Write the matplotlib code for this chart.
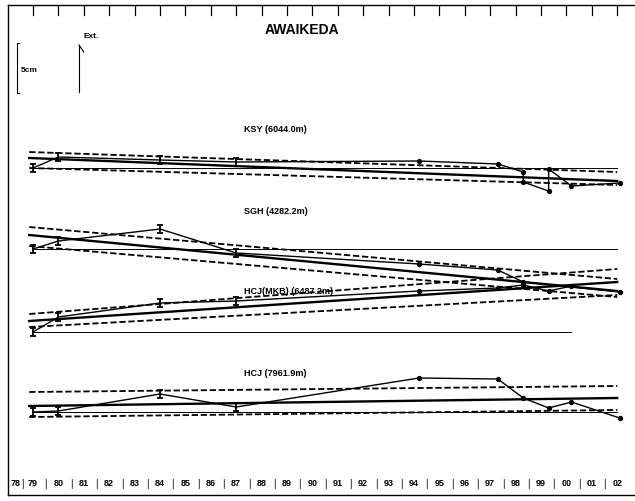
import numpy as np
import matplotlib.pyplot as plt

plt.rcParams['font.family'] = ['Liberation Sans', 'DejaVu Sans']

# anos das medições (ano decimal) e deslocamento em cm relativo à primeira medição
ksy_years = [1979.0, 1980.0, 1984.0, 1987.0, 1994.2, 1997.3, 1998.3, 1998.3, 1999.3, 1999.3, 2000.2, 2002.1]
ksy_disp = [0.0, 1.1, 0.8, 0.6, 0.7, 0.4, -0.4, -1.4, -2.3, -0.1, -1.8, -1.5]

sgh_years = [1979.0, 1980.0, 1984.0, 1987.0, 1994.2, 1997.3, 1998.3, 2002.1]
sgh_disp = [0.0, 0.8, 2.0, -0.4, -1.5, -2.1, -3.3, -4.3]

mkb_years = [1979.0, 1980.0, 1984.0, 1987.0, 1994.2, 1997.3, 1998.3, 1999.3, 2000.2]
mkb_disp = [0.0, 1.5, 2.9, 3.1, 4.1, 4.4, 4.7, 4.1, 4.6]

hcj_years = [1979.0, 1980.0, 1984.0, 1987.0, 1994.2, 1997.3, 1998.3, 1999.3, 2000.2, 2002.1]
hcj_disp = [0.0, 0.1, 1.8, 0.5, 3.4, 3.3, 1.4, 0.4, 1.0, -0.6]

# retas de tendência (início, fim) e limites tracejados
fit_years = [1978.85, 2002.0]
ksy_fit, ksy_up, ksy_lo = [1.0, -1.3], [1.6, -0.4], [0.0, -1.7]
sgh_fit, sgh_up, sgh_lo = [1.4, -4.2], [2.2, -3.0], [0.3, -4.8]
mkb_fit, mkb_up, mkb_lo = [1.1, 5.0], [1.8, 6.3], [0.5, 3.7]
hcj_fit, hcj_up, hcj_lo = [0.6, 1.4], [2.0, 2.6], [-0.5, 0.2]

year_labels = ['78', '79', '80', '81', '82', '83', '84', '85', '86', '87', '88', '89', '90',
               '91', '92', '93', '94', '95', '96', '97', '98', '99', '00', '01', '02']

series = [
    ('KSY (6044.0m)', ksy_years, ksy_disp, ksy_fit, ksy_up, ksy_lo, 32.7, 2002.0, 36.7),
    ('SGH (4282.2m)', sgh_years, sgh_disp, sgh_fit, sgh_up, sgh_lo, 24.6, 2002.0, 28.5),
    ('HCJ(MKB) (6487.2m)', mkb_years, mkb_disp, mkb_fit, mkb_up, mkb_lo, 16.3, 2000.2, 20.4),
    ('HCJ (7961.9m)', hcj_years, hcj_disp, hcj_fit, hcj_up, hcj_lo, 8.3, 2002.0, 12.3),
]

fig = plt.figure(figsize=(6.35, 5.02), dpi=100)
ax = fig.add_axes([8 / 635, 6 / 502, 637 / 635, 490 / 502])
ax.set_xlim(1978.016, 2003.094)
ax.set_ylim(0, 49)
for s in ['right', 'bottom', 'top', 'left']:
    ax.spines[s].set_linewidth(1.0)
ax.spines['right'].set_visible(False)
ax.set_xticks([])
ax.set_yticks([])

# marcas no topo
for yr in range(1979, 2003):
    ax.plot([yr, yr], [49, 48.0], color='black', lw=0.9)

dash = (0, (3.5, 1.5))
for name, yrs, disp, fit, up, lo, base, ref_end, ty in series:
    yrs = np.array(yrs)
    d = np.array(disp) + base
    ax.plot([yrs[0], ref_end], [base, base], color='black', lw=0.7)
    ax.plot(fit_years, np.array(fit) + base, color='black', lw=1.7)
    ax.plot(fit_years, np.array(up) + base, color='black', lw=1.3, linestyle=dash)
    ax.plot(fit_years, np.array(lo) + base, color='black', lw=1.3, linestyle=dash)
    ax.plot(yrs, d, color='black', lw=1.0)
    ax.errorbar(yrs[:4], d[:4], yerr=0.4, fmt='none', ecolor='black', elinewidth=1.3, capsize=2.5, capthick=1.3)
    ax.plot(yrs[4:], d[4:], 'o', color='black', ms=2.8)
    ax.text(1987.3, ty, name, fontsize=6.5, fontweight='bold', ha='left', va='center')

ax.text(1989.6, 46.6, 'AWAIKEDA', fontsize=10, fontweight='bold', ha='center', va='center')

# barra de escala (5 cm) e seta de extensão
ax.plot([1978.45, 1978.37, 1978.37, 1978.45], [45.2, 45.2, 40.2, 40.2], color='black', lw=0.8)
ax.text(1978.5, 42.6, '5cm', fontsize=6, fontweight='bold', ha='left', va='center')
ax.plot([1980.81, 1980.81], [40.3, 45.0], color='black', lw=0.8)
ax.plot([1980.81, 1981.0], [45.0, 44.3], color='black', lw=0.8)
ax.text(1981.0, 46.0, 'Ext.', fontsize=6, fontweight='bold', ha='left', va='center')

# rótulos dos anos na base
for i, lab in enumerate(year_labels):
    x = 1978 + i
    if i == 0:
        x = 1978.3
    ax.text(x, 1.2, lab, fontsize=6.5, fontweight='bold', ha='center', va='center')
    if i < len(year_labels) - 1:
        sep = 1978.6 if i == 0 else x + 0.5
        ax.text(sep, 1.2, '|', fontsize=7, ha='center', va='center')

plt.savefig('out.png', dpi=100)
